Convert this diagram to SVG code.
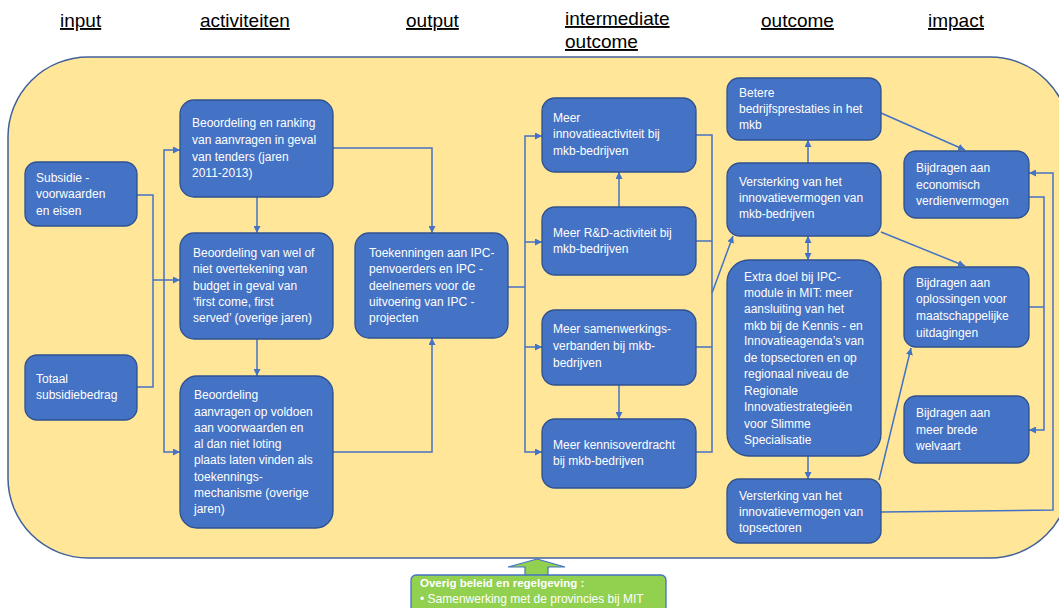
<svg xmlns="http://www.w3.org/2000/svg" width="1059" height="608" viewBox="0 0 1059 608">
<style>
.hdr{font-family:"Liberation Sans",Arial,sans-serif;font-size:19px;fill:#000;text-decoration:underline}
.box{fill:#4472C4;stroke:#2F528F;stroke-width:1.3}
.t{font-family:"Liberation Sans",Arial,sans-serif;font-size:12px;fill:#fff}
.c{fill:none;stroke:#4472C4;stroke-width:1.5}
.g{font-family:"Liberation Sans",Arial,sans-serif;font-size:11.5px;fill:#fff}
</style>
<defs>
<marker id="ah" viewBox="0 0 10 10" refX="10" refY="5" markerWidth="7" markerHeight="7" markerUnits="userSpaceOnUse" orient="auto-start-reverse">
<path d="M0,0 L10,5 L0,10 z" fill="#4472C4"/>
</marker>
</defs>
<rect id="background" x="8" y="57" width="1062" height="501" rx="80" fill="#FFE699" stroke="#41609B" stroke-width="1.5"/>
<g id="headers">
<text class="hdr" x="60" y="27">input</text>
<text class="hdr" x="200" y="27">activiteiten</text>
<text class="hdr" x="406" y="27">output</text>
<text class="hdr" x="565" y="25">intermediate</text>
<text class="hdr" x="565" y="48">outcome</text>
<text class="hdr" x="761" y="27">outcome</text>
<text class="hdr" x="928" y="27">impact</text>
</g>
<g id="connectors">
<polyline class="c" points="137,195 153,195 153,387 137,387"/>
<polyline class="c" points="153,280 180,280" marker-end="url(#ah)"/>
<polyline class="c" points="164,280 164,150 180,150" marker-end="url(#ah)"/>
<polyline class="c" points="164,280 164,452 180,452" marker-end="url(#ah)"/>
<line class="c" x1="257" y1="197" x2="257" y2="233" marker-end="url(#ah)"/>
<line class="c" x1="257" y1="339" x2="257" y2="376" marker-end="url(#ah)"/>
<polyline class="c" points="333,148 432,148 432,233" marker-end="url(#ah)"/>
<polyline class="c" points="333,452 432,452 432,338" marker-end="url(#ah)"/>
<polyline class="c" points="508,287 525,287"/>
<polyline class="c" points="525,287 525,136 542,136" marker-end="url(#ah)"/>
<polyline class="c" points="525,242 542,242" marker-end="url(#ah)"/>
<polyline class="c" points="525,347 542,347" marker-end="url(#ah)"/>
<polyline class="c" points="525,287 525,452 542,452" marker-end="url(#ah)"/>
<line class="c" x1="619" y1="207" x2="619" y2="172" marker-end="url(#ah)"/>
<line class="c" x1="619" y1="385" x2="619" y2="419" marker-end="url(#ah)"/>
<polyline class="c" points="696,135 712,135 712,452 696,452"/>
<line class="c" x1="696" y1="241" x2="712" y2="241"/>
<line class="c" x1="696" y1="347" x2="712" y2="347"/>
<line class="c" x1="712" y1="293" x2="733" y2="236" stroke-width="1.2" marker-end="url(#ah)"/>
<line class="c" x1="808" y1="163" x2="808" y2="140" marker-end="url(#ah)"/>
<line class="c" x1="808" y1="236" x2="808" y2="260" marker-start="url(#ah)" marker-end="url(#ah)"/>
<line class="c" x1="808" y1="456" x2="808" y2="479" marker-end="url(#ah)"/>
<line class="c" x1="881" y1="113" x2="965" y2="150" stroke-width="1.2" marker-end="url(#ah)"/>
<line class="c" x1="881" y1="232" x2="965" y2="266" stroke-width="1.2" marker-end="url(#ah)"/>
<line class="c" x1="879" y1="480" x2="911" y2="348" stroke-width="1.2" marker-end="url(#ah)"/>
<polyline class="c" points="881,512 1053,510 1053,173 1029,173" marker-end="url(#ah)"/>
<polyline class="c" points="1029,197 1044,197 1044,430 1029,430" marker-end="url(#ah)"/>
<line class="c" x1="1029" y1="307" x2="1044" y2="307"/>
</g>
<g id="n_subsidievoorwaarden">
<rect class="box" x="25" y="162" width="112" height="64" rx="12"/>
<text class="t"><tspan x="36" y="182">Subsidie -</tspan><tspan x="36" y="198">voorwaarden</tspan><tspan x="36" y="215">en eisen</tspan></text>
</g>
<g id="n_totaal">
<rect class="box" x="25" y="355" width="112" height="65" rx="12"/>
<text class="t"><tspan x="36" y="383">Totaal</tspan><tspan x="36" y="399">subsidiebedrag</tspan></text>
</g>
<g id="n_ranking">
<rect class="box" x="180" y="100" width="153" height="97" rx="14"/>
<text class="t"><tspan x="192" y="127">Beoordeling en ranking</tspan><tspan x="192" y="144">van aanvragen in geval</tspan><tspan x="192" y="161">van tenders (jaren</tspan><tspan x="192" y="177">2011-2013)</tspan></text>
</g>
<g id="n_overtekening">
<rect class="box" x="180" y="233" width="153" height="106" rx="14"/>
<text class="t"><tspan x="193" y="257">Beoordeling van wel of</tspan><tspan x="193" y="273">niet overtekening van</tspan><tspan x="193" y="290">budget in geval van</tspan><tspan x="193" y="306">‘first come, first</tspan><tspan x="193" y="322">served’ (overige jaren)</tspan></text>
</g>
<g id="n_loting">
<rect class="box" x="180" y="376" width="153" height="152" rx="17"/>
<text class="t"><tspan x="194" y="399">Beoordeling</tspan><tspan x="194" y="416">aanvragen op voldoen</tspan><tspan x="194" y="432">aan voorwaarden en</tspan><tspan x="194" y="448">al dan niet loting</tspan><tspan x="194" y="464">plaats laten vinden als</tspan><tspan x="194" y="481">toekennings-</tspan><tspan x="194" y="497">mechanisme (overige</tspan><tspan x="194" y="513">jaren)</tspan></text>
</g>
<g id="n_toekenningen">
<rect class="box" x="355" y="233" width="153" height="105" rx="14"/>
<text class="t"><tspan x="369" y="257">Toekenningen aan IPC-</tspan><tspan x="369" y="273">penvoerders en IPC -</tspan><tspan x="369" y="290">deelnemers voor de</tspan><tspan x="369" y="306">uitvoering van IPC -</tspan><tspan x="369" y="322">projecten</tspan></text>
</g>
<g id="n_innovatieactiviteit">
<rect class="box" x="542" y="98" width="154" height="74" rx="13"/>
<text class="t"><tspan x="553" y="122">Meer</tspan><tspan x="553" y="138">innovatieactiviteit bij</tspan><tspan x="553" y="155">mkb-bedrijven</tspan></text>
</g>
<g id="n_rd">
<rect class="box" x="542" y="207" width="154" height="68" rx="13"/>
<text class="t"><tspan x="553" y="237">Meer R&amp;D-activiteit bij</tspan><tspan x="553" y="253">mkb-bedrijven</tspan></text>
</g>
<g id="n_samenwerking">
<rect class="box" x="542" y="310" width="154" height="75" rx="13"/>
<text class="t"><tspan x="553" y="333">Meer samenwerkings-</tspan><tspan x="553" y="350">verbanden bij mkb-</tspan><tspan x="553" y="367">bedrijven</tspan></text>
</g>
<g id="n_kennisoverdracht">
<rect class="box" x="542" y="419" width="154" height="69" rx="13"/>
<text class="t"><tspan x="553" y="449">Meer kennisoverdracht</tspan><tspan x="553" y="465">bij mkb-bedrijven</tspan></text>
</g>
<g id="n_bedrijfsprestaties">
<rect class="box" x="727" y="78" width="154" height="62" rx="12"/>
<text class="t"><tspan x="739" y="97">Betere</tspan><tspan x="739" y="113">bedrijfsprestaties in het</tspan><tspan x="739" y="129">mkb</tspan></text>
</g>
<g id="n_versterking_mkb">
<rect class="box" x="727" y="163" width="154" height="73" rx="13"/>
<text class="t"><tspan x="739" y="186">Versterking van het</tspan><tspan x="739" y="202">innovatievermogen van</tspan><tspan x="739" y="218">mkb-bedrijven</tspan></text>
</g>
<g id="n_extra_doel">
<rect class="box" x="727" y="260" width="154" height="196" rx="22"/>
<text class="t"><tspan x="744" y="281">Extra doel bij IPC-</tspan><tspan x="744" y="297">module in MIT: meer</tspan><tspan x="744" y="313">aansluiting van het</tspan><tspan x="744" y="330">mkb bij de Kennis - en</tspan><tspan x="744" y="345">Innovatieagenda’s van</tspan><tspan x="744" y="362">de topsectoren en op</tspan><tspan x="744" y="378">regionaal niveau de</tspan><tspan x="744" y="395">Regionale</tspan><tspan x="744" y="411">Innovatiestrategieën</tspan><tspan x="744" y="428">voor Slimme</tspan><tspan x="744" y="444">Specialisatie</tspan></text>
</g>
<g id="n_versterking_topsectoren">
<rect class="box" x="727" y="479" width="154" height="64" rx="12"/>
<text class="t"><tspan x="739" y="500">Versterking van het</tspan><tspan x="739" y="516">innovatievermogen van</tspan><tspan x="739" y="532">topsectoren</tspan></text>
</g>
<g id="n_verdienvermogen">
<rect class="box" x="904" y="151" width="125" height="67" rx="12"/>
<text class="t"><tspan x="916" y="172">Bijdragen aan</tspan><tspan x="916" y="189">economisch</tspan><tspan x="916" y="205">verdienvermogen</tspan></text>
</g>
<g id="n_maatschappelijk">
<rect class="box" x="904" y="267" width="125" height="80" rx="12"/>
<text class="t"><tspan x="916" y="287">Bijdragen aan</tspan><tspan x="916" y="303">oplossingen voor</tspan><tspan x="916" y="320">maatschappelijke</tspan><tspan x="916" y="337">uitdagingen</tspan></text>
</g>
<g id="n_welvaart">
<rect class="box" x="904" y="396" width="125" height="67" rx="12"/>
<text class="t"><tspan x="916" y="417">Bijdragen aan</tspan><tspan x="916" y="434">meer brede</tspan><tspan x="916" y="450">welvaart</tspan></text>
</g>
<g id="n_overig_beleid">
<path d="M537,559 L565,567 L548,567 L548,576 L525,576 L525,567 L508,567 Z" fill="#92D050" stroke="#4472C4" stroke-width="1.2"/>
<rect x="411" y="575" width="255" height="40" rx="5" fill="#92D050" stroke="#4472C4" stroke-width="1.3"/>
<text class="g"><tspan x="420" y="587" font-weight="bold">Overig beleid en regelgeving :</tspan><tspan x="420" y="603" font-size="12">• Samenwerking met de provincies bij MIT</tspan></text>
</g>
</svg>
